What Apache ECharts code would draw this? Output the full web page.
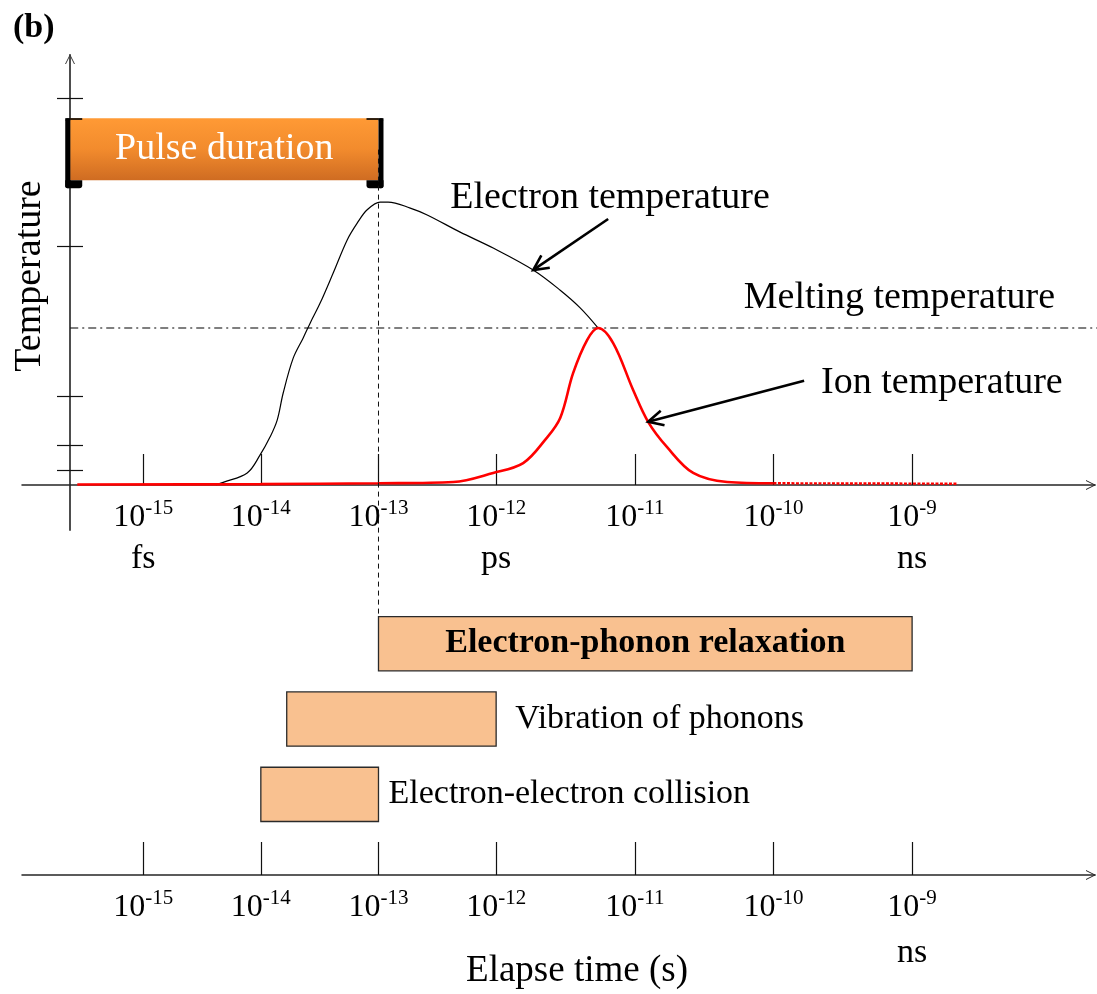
<!DOCTYPE html>
<html>
<head>
<meta charset="utf-8">
<script src="https://cdn.jsdelivr.net/npm/echarts@6/dist/echarts.min.js"></script>
<style>
  html, body { margin: 0; padding: 0; background: #ffffff; }
  #chart { width: 1097px; height: 994px; }
</style>
</head>
<body>
<div id="chart"></div>
<script>
// ---- data (time as log10 of seconds, temperature in arbitrary units) ----
const DECADES = [-15, -14, -13, -12, -11, -10, -9];
const TOP_UNITS = { '-15': 'fs', '-12': 'ps', '-9': 'ns' };
const BOTTOM_UNITS = { '-9': 'ns' };

const ELECTRON_LOGT = [-14.38, -14.32, -14.116, -14.006, -13.921, -13.861, -13.81, -13.725, -13.64,
  -13.58, -13.496, -13.385, -13.266, -13.181, -13.096, -12.986, -12.918, -12.73, -12.586, -12.306,
  -12.025, -11.733, -11.538, -11.394, -11.264];
const ELECTRON_TEMP = [0, 0.06, 0.28, 0.7, 1.12, 1.51, 2.14, 2.95, 3.42,
  3.77, 4.23, 4.93, 5.7, 6.09, 6.4, 6.58, 6.58, 6.44, 6.28, 5.88,
  5.51, 5.0, 4.53, 4.12, 3.65];

const ION_LOGT = [-15.56, -14.0, -13.0, -12.365, -12.025, -11.805, -11.647, -11.538, -11.445,
  -11.344, -11.264, -11.156, -11.012, -10.904, -10.767, -10.579, -10.334, -10.0];
const ION_TEMP = [0.01, 0.02, 0.04, 0.07, 0.28, 0.51, 1.05, 1.56, 2.6,
  3.37, 3.65, 3.3, 2.21, 1.47, 0.88, 0.28, 0.07, 0.04];
const ION_TAIL_LOGT = [-10.0, -8.67];
const ION_TAIL_TEMP = [0.04, 0.03];

const MELTING_TEMP = 3.65;
const TEMP_TICKS = [0.33, 0.91, 2.07, 5.56, 9.0];

const PULSE_LOGT = [-15.62, -13];
const PULSE_TEMP = [7.09, 8.53];
const GUIDE_LOGT = -13;
const GUIDE_TEMP = [7.8, -3.07];

const NOTE_TEXT = ['Electron temperature', 'Ion temperature'];
const NOTE_LOGT = [-11.733, -10.904];
const NOTE_TEMP = [5.0, 1.47];

const PROCESS_NAMES = ['Electron-phonon relaxation', 'Vibration of phonons', 'Electron-electron collision'];
const PROCESS_START = [-13, -13.78, -14];
const PROCESS_END = [-9, -12, -13];
const PROCESS_LANE = [3, 2, 1];

// ---- layout / styles ----
const FONT = '"Liberation Serif", "Times New Roman", serif';
const X_MIN = -16.03, X_MAX = -6.91;
// decades past 1 ps are drawn wider on the time axis
const WIDE_FROM = -12, WIDE_RATIO = 1.1785;
function axisPos(e) { return e <= WIDE_FROM ? e : WIDE_FROM + (e - WIDE_FROM) * WIDE_RATIO; }
function decadeOf(v) {
  return DECADES.find(d => Math.abs(axisPos(d) - v) < 1e-6);
}
const NOTE_STYLE = [
  { tail: [75, -51], text: [-83, -72] },
  { tail: [156, -41], text: [173, -39] }
];
const PROCESS_LABEL = [
  { inside: true, gap: 0, weight: 'bold' },
  { inside: false, gap: 19, weight: 'normal' },
  { inside: false, gap: 10, weight: 'normal' }
];
const AXIS_COLOR = '#262626';
const ARROW = 'path://M0,10 L5,0 L10,10 L9,10 L5,2 L1,10 Z';

function tickLabel(units) {
  return function (v) {
    const d = decadeOf(v);
    if (d === undefined) return '';
    let s = '{b|10}{s|' + d + '}';
    if (units[String(d)]) s += '\n{u|' + units[String(d)] + '}';
    return s;
  };
}
function labelRich(unitLineHeight) {
  return {
    b: { fontSize: 32, fontFamily: FONT, color: '#000', lineHeight: 36, verticalAlign: 'bottom' },
    s: { fontSize: 21, fontFamily: FONT, color: '#000', lineHeight: 36, verticalAlign: 'top', padding: [0, 0, 14, 0] },
    u: { fontSize: 34, fontFamily: FONT, color: '#000', lineHeight: unitLineHeight, verticalAlign: 'bottom' }
  };
}

function line(x1, y1, x2, y2, style) {
  return { type: 'line', shape: { x1, y1, x2, y2 }, style: Object.assign({ stroke: '#000', lineWidth: 1 }, style) };
}

function renderPulse(params, api) {
  const a = api.coord([api.value(0), api.value(3)]);
  const b = api.coord([api.value(1), api.value(2)]);
  const x0 = a[0], y0 = a[1], x1 = b[0], y1 = b[1];
  const w = x1 - x0, h = y1 - y0;
  const grad = new echarts.graphic.LinearGradient(0, 0, 0, 1, [
    { offset: 0, color: '#ff9a35' },
    { offset: 0.5, color: '#f28b2d' },
    { offset: 1, color: '#cf6c22' }
  ]);
  return {
    type: 'group',
    children: [
      { type: 'rect', shape: { x: x0, y: y0, width: w, height: h }, style: { fill: grad } },
      { type: 'rect', shape: { x: x0 - 5, y: y0, width: 5, height: h + 8, r: 2 }, style: { fill: '#000' } },
      { type: 'rect', shape: { x: x0 - 5, y: y0, width: 17, height: 1.6 }, style: { fill: '#000' } },
      { type: 'rect', shape: { x: x0 - 5, y: y1, width: 17, height: 8, r: [0, 0, 3, 3] }, style: { fill: '#000' } },
      { type: 'rect', shape: { x: x1, y: y0, width: 5, height: h + 8, r: 2 }, style: { fill: '#000' } },
      { type: 'rect', shape: { x: x1 - 12, y: y0, width: 17, height: 1.6 }, style: { fill: '#000' } },
      { type: 'rect', shape: { x: x1 - 12, y: y1, width: 17, height: 8, r: [0, 0, 3, 3] }, style: { fill: '#000' } },
      { type: 'text', style: { text: 'Pulse duration', x: (x0 + x1) / 2, y: (y0 + y1) / 2, align: 'center', verticalAlign: 'middle', fontSize: 38, fontFamily: FONT, fill: '#ffffff' } }
    ]
  };
}

function renderGuide(params, api) {
  const a = api.coord([api.value(0), api.value(1)]);
  const b = api.coord([api.value(0), api.value(2)]);
  return line(a[0], a[1], b[0], b[1], { lineDash: [5, 4], lineWidth: 1, stroke: '#111' });
}

function renderMelting(params, api) {
  const a = api.coord([api.value(0), api.value(2)]);
  const b = api.coord([api.value(1), api.value(2)]);
  return {
    type: 'group',
    children: [
      line(a[0], a[1], b[0] + 2, b[1], { lineDash: [8, 4, 2, 4], lineWidth: 1.1, stroke: '#000' }),
      { type: 'text', style: { text: 'Melting temperature', x: b[0] - 40, y: b[1] - 30, align: 'right', verticalAlign: 'middle', fontSize: 38, fontFamily: FONT, fill: '#000' } }
    ]
  };
}

function renderNote(params, api) {
  const i = params.dataIndex;
  const p = api.coord([api.value(0), api.value(1)]);
  const st = NOTE_STYLE[i];
  const t = [p[0] + st.tail[0], p[1] + st.tail[1]];
  const dx = p[0] - t[0], dy = p[1] - t[1];
  const len = Math.hypot(dx, dy);
  const ux = dx / len, uy = dy / len, nx = -uy, ny = ux;
  const hl = 15, hw = 7.5;
  return {
    type: 'group',
    children: [
      line(t[0], t[1], p[0] - ux * 2, p[1] - uy * 2, { lineWidth: 2.6 }),
      { type: 'polyline', shape: { points: [
          [p[0] - ux * hl + nx * hw, p[1] - uy * hl + ny * hw],
          [p[0], p[1]],
          [p[0] - ux * hl - nx * hw, p[1] - uy * hl - ny * hw]
        ] }, style: { stroke: '#000', lineWidth: 2.6, fill: null, lineJoin: 'miter' } },
      { type: 'text', style: { text: NOTE_TEXT[i], x: p[0] + st.text[0], y: p[1] + st.text[1], align: 'left', verticalAlign: 'middle', fontSize: 38, fontFamily: FONT, fill: '#000' } }
    ]
  };
}

function renderProcess(params, api) {
  const i = params.dataIndex;
  const lane = api.value(2);
  const a = api.coord([api.value(0), lane + 0.36]);
  const b = api.coord([api.value(1), lane - 0.36]);
  const lab = PROCESS_LABEL[i];
  const cy = (a[1] + b[1]) / 2;
  return {
    type: 'group',
    children: [
      { type: 'rect', shape: { x: a[0], y: a[1], width: b[0] - a[0], height: b[1] - a[1] }, style: { fill: '#f9c190', stroke: '#2a2a2a', lineWidth: 1.3 } },
      { type: 'text', style: {
          text: PROCESS_NAMES[i],
          x: lab.inside ? (a[0] + b[0]) / 2 : b[0] + lab.gap,
          y: cy,
          align: lab.inside ? 'center' : 'left', verticalAlign: 'middle',
          fontSize: 34, fontWeight: lab.weight, fontFamily: FONT, fill: '#000'
        } }
    ]
  };
}

const tickPositions = DECADES.map(axisPos);
const ARROW_LINE = { symbol: ['none', ARROW], symbolSize: [14, 10], symbolOffset: [0, -4] };

const option = {
  animation: false,
  backgroundColor: '#ffffff',
  title: {
    text: '(b)', left: 8, top: 6,
    textStyle: { fontSize: 34, fontWeight: 'bold', fontFamily: FONT, color: '#000' }
  },
  grid: [
    // temperature plot
    { left: 22, right: 2, top: 55, bottom: 509, containLabel: false, outerBoundsMode: 'none' },
    // process bars and lower time axis
    { left: 22, right: 2, top: 600, bottom: 119, containLabel: false, outerBoundsMode: 'none' },
    // temperature axis, which runs a little below the time axis
    { left: 22, right: 2, top: 55, bottom: 464, containLabel: false, outerBoundsMode: 'none' }
  ],
  xAxis: [
    {
      type: 'value', gridIndex: 0, min: X_MIN, max: X_MAX, position: 'bottom',
      axisLine: Object.assign({ onZero: false, lineStyle: { color: AXIS_COLOR, width: 1.5 } }, ARROW_LINE),
      axisTick: { show: true, inside: true, length: 31, customValues: tickPositions, lineStyle: { color: '#111', width: 1.2 } },
      axisLabel: { show: true, customValues: tickPositions, margin: 13, formatter: tickLabel(TOP_UNITS), rich: labelRich(42), align: 'center' },
      splitLine: { show: false }
    },
    {
      type: 'value', gridIndex: 1, min: X_MIN, max: X_MAX, position: 'bottom',
      axisLine: Object.assign({ onZero: false, lineStyle: { color: AXIS_COLOR, width: 1.5 } }, ARROW_LINE),
      axisTick: { show: true, inside: true, length: 33, customValues: tickPositions, lineStyle: { color: '#111', width: 1.2 } },
      axisLabel: { show: true, customValues: tickPositions, margin: 13, formatter: tickLabel(BOTTOM_UNITS), rich: labelRich(46), align: 'center' },
      splitLine: { show: false },
      name: 'Elapse time (s)', nameLocation: 'middle', nameGap: 78, nameMoveOverlap: false,
      nameTextStyle: { fontSize: 37, fontFamily: FONT, color: '#000', padding: [0, 0, 0, 37] }
    },
    { type: 'value', gridIndex: 2, min: X_MIN, max: X_MAX, show: false }
  ],
  yAxis: [
    { type: 'value', gridIndex: 0, min: 0, max: 10, show: false },
    {
      type: 'value', gridIndex: 2, min: -1.05, max: 10, position: 'left', offset: -48,
      axisLine: Object.assign({ show: true, onZero: false, lineStyle: { color: '#3a3a3a', width: 1.8 } }, ARROW_LINE),
      axisTick: { show: true, inside: false, length: 13, customValues: TEMP_TICKS, lineStyle: { color: '#111', width: 1.2 } },
      axisLabel: { show: false },
      splitLine: { show: false },
      name: 'Temperature', nameLocation: 'middle', nameGap: 21, nameRotate: 90,
      nameTextStyle: { fontSize: 38, fontFamily: FONT, color: '#000', padding: [0, 0, 0, 33] }
    },
    {
      type: 'value', gridIndex: 2, min: -1.05, max: 10, position: 'left', offset: -48,
      axisLine: { show: false, onZero: false },
      axisTick: { show: true, inside: true, length: 13, customValues: TEMP_TICKS, lineStyle: { color: '#111', width: 1.2 } },
      axisLabel: { show: false },
      splitLine: { show: false }
    },
    { type: 'value', gridIndex: 1, min: -0.07, max: 3.58, show: false }
  ],
  series: [
    {
      type: 'custom', name: 'Pulse duration', xAxisIndex: 0, yAxisIndex: 0, z: 2,
      renderItem: renderPulse, encode: { x: [0, 1], y: [2, 3] },
      data: [[axisPos(PULSE_LOGT[0]), axisPos(PULSE_LOGT[1]), PULSE_TEMP[0], PULSE_TEMP[1]]]
    },
    {
      type: 'custom', name: 'Melting temperature', xAxisIndex: 0, yAxisIndex: 0, z: 3,
      renderItem: renderMelting, encode: { x: [0, 1], y: 2 },
      data: [[PULSE_LOGT[0], X_MAX, MELTING_TEMP]]
    },
    {
      type: 'line', name: 'Electron temperature', xAxisIndex: 0, yAxisIndex: 0, z: 4,
      data: ELECTRON_LOGT.map((e, i) => [axisPos(e), ELECTRON_TEMP[i]]),
      smooth: 0.35, showSymbol: false, symbol: 'none',
      lineStyle: { color: '#000', width: 1.2 }
    },
    {
      type: 'line', name: 'Ion temperature', xAxisIndex: 0, yAxisIndex: 0, z: 5,
      data: ION_LOGT.map((e, i) => [axisPos(e), ION_TEMP[i]]),
      smooth: 0.35, showSymbol: false, symbol: 'none',
      lineStyle: { color: '#ff0000', width: 2.6 }
    },
    {
      type: 'line', name: 'Ion temperature (late)', xAxisIndex: 0, yAxisIndex: 0, z: 5,
      data: ION_TAIL_LOGT.map((e, i) => [axisPos(e), ION_TAIL_TEMP[i]]),
      showSymbol: false, symbol: 'none',
      lineStyle: { color: '#ff0000', width: 2.4, type: [3, 1.5] }
    },
    {
      type: 'custom', name: 'guide', xAxisIndex: 0, yAxisIndex: 0, z: 6, clip: false,
      renderItem: renderGuide, encode: { x: 0, y: [1, 2] },
      data: [[axisPos(GUIDE_LOGT), GUIDE_TEMP[0], GUIDE_TEMP[1]]]
    },
    {
      type: 'custom', name: 'notes', xAxisIndex: 0, yAxisIndex: 0, z: 7,
      renderItem: renderNote, encode: { x: 0, y: 1 },
      data: NOTE_LOGT.map((e, i) => [axisPos(e), NOTE_TEMP[i]])
    },
    {
      type: 'custom', name: 'processes', xAxisIndex: 1, yAxisIndex: 3, z: 2,
      renderItem: renderProcess, encode: { x: [0, 1], y: 2 },
      data: PROCESS_NAMES.map((n, i) => [axisPos(PROCESS_START[i]), axisPos(PROCESS_END[i]), PROCESS_LANE[i]])
    }
  ]
};

const chart = echarts.init(document.getElementById('chart'), null, { renderer: 'canvas' });
chart.setOption(option);
</script>
</body>
</html>
